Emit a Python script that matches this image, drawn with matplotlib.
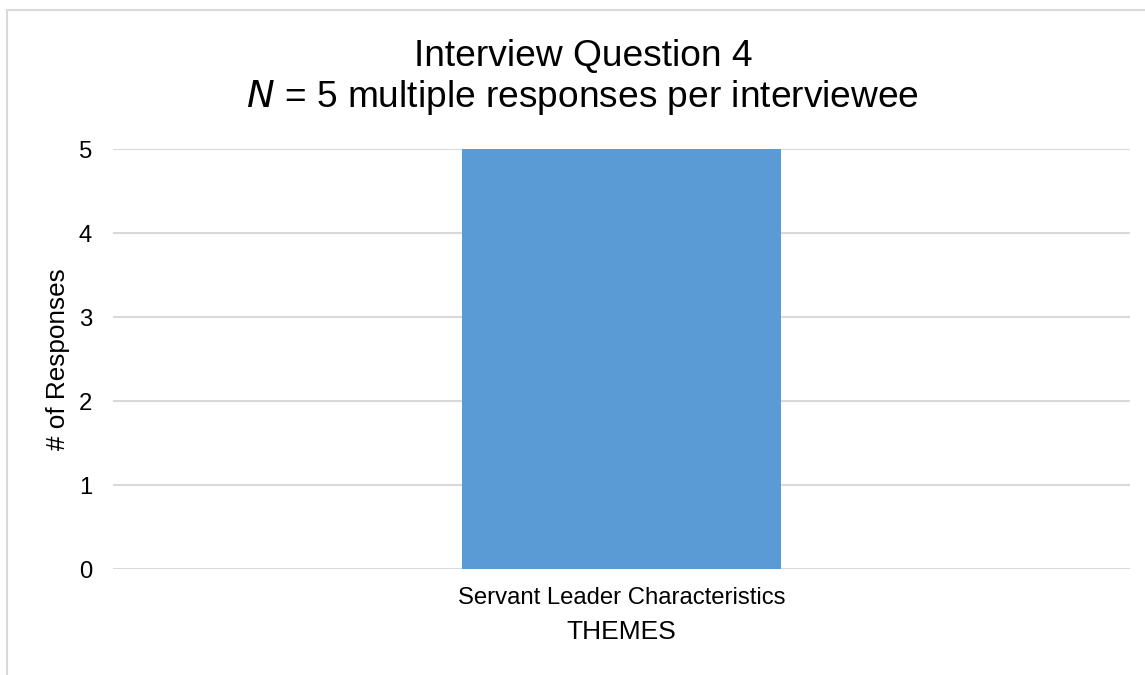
import matplotlib.pyplot as plt
from matplotlib.patches import Rectangle

plt.rcParams["font.family"] = ["Liberation Sans", "DejaVu Sans"]

categories = ["Servant Leader Characteristics"]
responses = [5]
y_ticks = [0, 1, 2, 3, 4, 5]

fig = plt.figure(figsize=(11.45, 6.75), dpi=100)
ax = fig.add_axes([113 / 1145, 1 - 569 / 675, (1130 - 113) / 1145, (569 - 149) / 675])

ax.bar(range(len(categories)), responses, width=0.314, color="#5B9BD5", zorder=2)
ax.set_xlim(-0.5, len(categories) - 0.5)
ax.set_ylim(0, 5)
ax.set_yticks(y_ticks)
ax.set_xticks(range(len(categories)))
ax.set_xticklabels(categories)

ax.grid(axis="y", color="#d9d9d9", lw=1.5, zorder=0)
ax.set_axisbelow(True)
for s in ax.spines.values():
    s.set_visible(False)
ax.tick_params(axis="both", length=0, labelsize=17.2, colors="black")
ax.tick_params(axis="y", pad=15)
ax.tick_params(axis="x", pad=13)

ax.set_xlabel("THEMES", fontsize=19, labelpad=8)
ax.set_ylabel("# of Responses", fontsize=18.8, labelpad=6)

fig.text(583 / 1145, 1 - 66 / 675, "Interview Question 4", ha="center", va="baseline", fontsize=26.7)
fig.text(583 / 1145, 1 - 107 / 675, r"$\it{N}$ = 5 multiple responses per interviewee",
         ha="center", va="baseline", fontsize=26.7)

# outer chart border
fig.patches.append(Rectangle((7 / 1145, -0.1), 1.2, 1 - 10 / 675 + 0.1,
                             transform=fig.transFigure, fill=False,
                             edgecolor="#d9d9d9", lw=1.5))

fig.savefig("out.png", dpi=100)
